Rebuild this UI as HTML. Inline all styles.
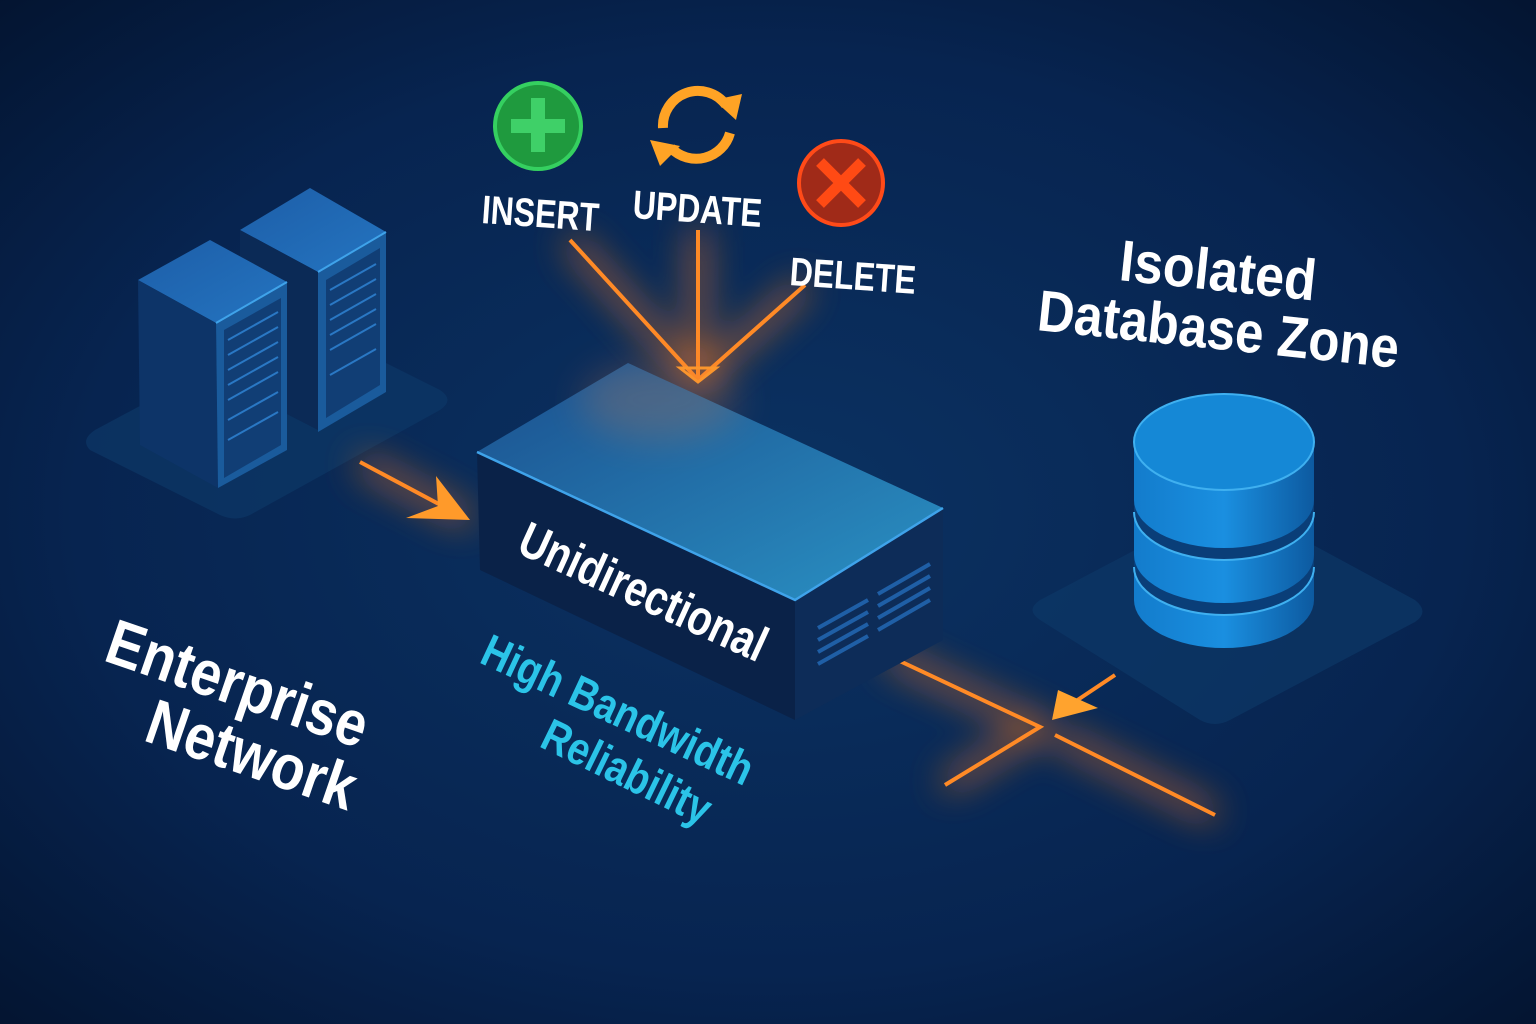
<!DOCTYPE html>
<html><head><meta charset="utf-8"><style>
html,body{margin:0;padding:0;background:#061a3a;}
svg{display:block}
text{font-family:"Liberation Sans",sans-serif;font-weight:bold}
</style></head><body>
<svg width="1536" height="1024" viewBox="0 0 1536 1024" xmlns="http://www.w3.org/2000/svg">
<defs>
<radialGradient id="bg" cx="50%" cy="50%" r="75%">
<stop offset="0" stop-color="#0b3262"/><stop offset="0.6" stop-color="#072450"/><stop offset="1" stop-color="#03122c"/>
</radialGradient>
<filter id="glow" x="-50%" y="-50%" width="200%" height="200%"><feGaussianBlur stdDeviation="6"/></filter>
<filter id="glow2" x="-50%" y="-50%" width="200%" height="200%"><feGaussianBlur stdDeviation="18"/></filter>
<linearGradient id="topbox" x1="0" y1="0" x2="1" y2="1"><stop offset="0" stop-color="#1b4f8e"/><stop offset="1" stop-color="#2a92c4"/></linearGradient>
<linearGradient id="cyl" x1="0" y1="0" x2="1" y2="0"><stop offset="0" stop-color="#137ccc"/><stop offset="0.5" stop-color="#1a8fe0"/><stop offset="1" stop-color="#0d5aa0"/></linearGradient>
<linearGradient id="srvTop" x1="0" y1="0" x2="1" y2="1"><stop offset="0" stop-color="#1d5ea8"/><stop offset="1" stop-color="#2474c0"/></linearGradient>
</defs>
<rect width="1536" height="1024" fill="url(#bg)"/>
<!-- platforms -->
<path d="M90,450 Q80,440 95,430 L300,320 L440,390 Q455,400 440,410 L250,515 Q235,522 220,515 Z" fill="#0d3766" opacity="0.7"/>
<path d="M1040,620 Q1025,610 1040,600 L1230,500 L1415,600 Q1430,612 1415,622 L1230,720 Q1215,728 1200,720 Z" fill="#0d3766" opacity="0.7"/>
<!-- glow lines -->
<g stroke="#ff7a1a" stroke-width="14" fill="none" filter="url(#glow2)" opacity="0.8">
<path d="M360,462 L470,520"/><path d="M887,655 L1040,727 L945,785"/><path d="M1055,735 L1215,815"/>
<path d="M570,240 L698,380 L805,285"/><path d="M698,230 L698,380"/>
</g>
<g stroke="#ff8a26" stroke-width="4" fill="none">
<path d="M360,462 L465,518"/><path d="M887,655 L1040,727 L945,785"/><path d="M1055,735 L1215,815"/>
<path d="M1115,675 L1070,705"/>
<path d="M570,240 L698,380 L805,285"/><path d="M698,230 L698,380"/>
</g>
<polygon points="470,520 406,518 438,506 436,476" fill="#ff9a2a"/>
<polygon points="1052,720 1058,690 1098,708" fill="#ffa32e"/>
<polygon points="680,368 698,382 716,368" fill="none" stroke="#ff9a2a" stroke-width="3"/>
<!-- servers -->
<g>
<polygon points="240,230 310,188 386,232 318,272" fill="url(#srvTop)"/>
<polygon points="240,230 318,272 318,430 240,390" fill="#0b2a56"/>
<polygon points="318,272 386,232 386,392 318,432" fill="#1a5b9c"/>
<polygon points="326,280 380,248 380,385 326,418" fill="#113e75"/>
<polygon points="138,280 210,240 287,282 216,323" fill="url(#srvTop)"/>
<polygon points="138,280 216,323 218,488 140,445" fill="#0d3468"/>
<polygon points="216,323 287,282 287,450 218,488" fill="#1a5b9c"/>
<polygon points="224,330 281,298 281,445 224,478" fill="#113e75"/>
<g stroke="#2a78c4" stroke-width="2">
<path d="M228,340 L278,312 M228,355 L278,327 M228,370 L278,342 M228,385 L278,357 M228,400 L278,372 M228,420 L278,392 M228,440 L278,412"/>
<path d="M330,290 L376,264 M330,305 L376,279 M330,320 L376,294 M330,335 L376,309 M330,350 L376,324 M330,375 L376,349"/>
</g>
<polyline points="216,323 287,282" stroke="#3fa3ea" stroke-width="2"/>
<polyline points="318,272 386,232" stroke="#3fa3ea" stroke-width="2"/>
</g>
<!-- box -->
<polygon points="628,363 477,452 795,600 943,508" fill="url(#topbox)"/>
<ellipse cx="660" cy="400" rx="80" ry="40" fill="#e07a40" opacity="0.22" filter="url(#glow2)"/>
<polygon points="477,452 795,600 795,720 480,570" fill="#0a2248"/>
<polygon points="795,600 943,508 943,640 795,720" fill="#0d2c58"/>
<polyline points="477,452 795,600 943,508" fill="none" stroke="#3fa3ea" stroke-width="2.5"/>
<g stroke="#1f5fa6" stroke-width="4">
<path d="M818,628 L868,600 M818,640 L868,612 M818,652 L868,624 M818,664 L868,636"/>
<path d="M878,594 L930,564 M878,606 L930,576 M878,618 L930,588 M878,630 L930,600"/>
</g>
<text x="0" y="0" font-size="50" fill="#fff" transform="translate(515,552) rotate(24.5) scale(0.8,1)">Unidirectional</text>
<!-- database -->
<path d="M1134,440 L1134,600 A90,48 0 0 0 1314,600 L1314,440 Z" fill="url(#cyl)"/>
<path d="M1134,500 A90,48 0 0 0 1314,500 L1314,512 A90,48 0 0 1 1134,512 Z" fill="#0a3e78"/>
<path d="M1134,555 A90,48 0 0 0 1314,555 L1314,567 A90,48 0 0 1 1134,567 Z" fill="#0a3e78"/>
<path d="M1134,512 A90,48 0 0 0 1314,512 M1134,567 A90,48 0 0 0 1314,567" fill="none" stroke="#3fb0f0" stroke-width="2"/>
<ellipse cx="1224" cy="442" rx="90" ry="48" fill="#1588d6" stroke="#3fb0f0" stroke-width="2"/>
<!-- icons -->
<circle cx="538" cy="126" r="43" fill="#1f9a3e" stroke="#35d060" stroke-width="4"/>
<path d="M538,98 L538,152 M511,126 L565,126" stroke="#3fd068" stroke-width="14"/>
<g fill="none" stroke="#ffa325" stroke-width="10">
<path d="M663,128 A35,35 0 0 1 726,105"/>
<path d="M730,133 A35,35 0 0 1 671,148"/>
</g>
<polygon points="714,100 742,94 736,120" fill="#ffa325"/>
<polygon points="650,140 680,146 660,166" fill="#ffa325"/>
<circle cx="841" cy="183" r="42" fill="#a02a18" stroke="#ff4a18" stroke-width="4"/>
<path d="M820,162 L862,204 M862,162 L820,204" stroke="#ff4a14" stroke-width="11"/>
<text font-size="40" fill="#fff" transform="translate(481,223) rotate(4) scale(0.8,1)">INSERT</text>
<text font-size="40" fill="#fff" transform="translate(632,218) rotate(4) scale(0.8,1)">UPDATE</text>
<text font-size="40" fill="#fff" transform="translate(789,285) rotate(4) scale(0.8,1)">DELETE</text>
<text font-size="58" fill="#fff" transform="translate(1118,280) rotate(6) scale(0.9,1)">Isolated</text>
<text font-size="58" fill="#fff" transform="translate(1036,330) rotate(6) scale(0.88,1)">Database Zone</text>
<text font-size="64" fill="#fff" transform="translate(102,660) rotate(19) scale(0.86,1)">Enterprise</text>
<text font-size="64" fill="#fff" transform="translate(142,740) rotate(19) scale(0.86,1)">Network</text>
<text font-size="46" fill="#2bc4e8" transform="translate(478,662) rotate(25) scale(0.84,1)">High Bandwidth</text>
<text font-size="46" fill="#2bc4e8" transform="translate(538,746) rotate(26) scale(0.84,1)">Reliability</text>
</svg>
</body></html>
